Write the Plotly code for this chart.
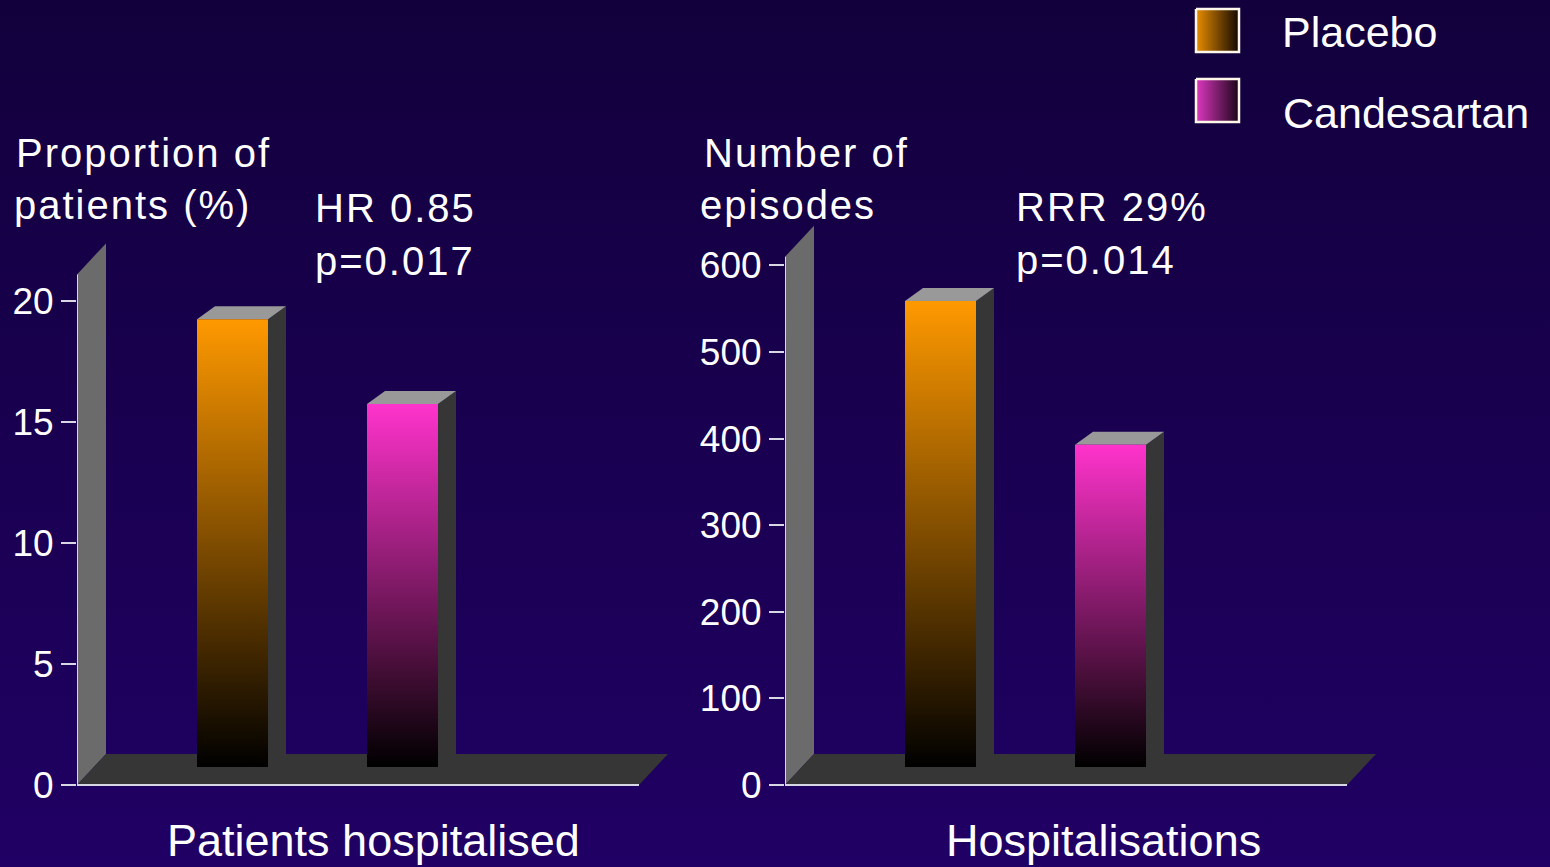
import plotly.graph_objects as go

W, H = 1550, 867

# ---- data -------------------------------------------------------------
groups = ["Placebo", "Candesartan"]
patients_pct = [18.5, 15.0]          # proportion of patients hospitalised (%)
hosp_episodes = [538, 372]           # number of hospitalisation episodes
left_ticks = [0, 5, 10, 15, 20]
right_ticks = [0, 100, 200, 300, 400, 500, 600]

panel_titles = ["Patients hospitalised", "Hospitalisations"]
axis_titles = [["Proportion of", "patients (%)"], ["Number of", "episodes"]]
stats_text = [["HR 0.85", "p=0.017"], ["RRR 29%", "p=0.014"]]

# ---- styling ----------------------------------------------------------
FONT = "Liberation Sans, Arial, sans-serif"
BAR_TOP = {"Placebo": "#ff9900", "Candesartan": "#ff33cc"}
SWATCH = {"Placebo": ["#e88e00", "#120700"], "Candesartan": ["#dd38c0", "#1a0418"]}
WALL = "#6b6b6b"
FLOOR = "#363636"
SIDE = "#363636"
TOPFACE = "#999999"
EDGE = "#d8d8e4"

SLOT_PX = 170.0        # distance between bar centres
FIRST_PX = 155.5       # wall front edge -> first bar centre
HALF_PX = 35.5         # half bar width
FLOOR_PX = 562.0       # floor length
WALL_DX, WALL_DY = 29.0, 31.0
BAR_DX, BAR_DY = 18.0, 13.0
LIFT_PX = 18.0         # bars stand mid-depth on the floor
ZERO_PX = 785.0        # pixel row of value 0

panels = [
    dict(values=patients_pct, ticks=left_ticks, ppu=24.2, wall_px=77.0,
         wall_top=21.1, xa="x2", ya="y2", dom_end=700.0),
    dict(values=hosp_episodes, ticks=right_ticks, ppu=0.866, wall_px=785.0,
         wall_top=610.0, xa="x3", ya="y3", dom_end=1410.0),
]

fig = go.Figure()

# background gradient on a full-page helper axis (pixel coordinates):
# dark at the top, lighter violet towards the bottom
fig.add_trace(go.Scatter(
    x=[0, W, W, 0, 0], y=[0, 0, H, H, 0], mode="lines", fill="toself",
    line=dict(width=0), fillgradient=dict(type="vertical",
    colorscale=[[0, "#200064"], [1, "#12003c"]]),
    hoverinfo="skip", showlegend=False, xaxis="x", yaxis="y"))


def poly(xs, ys, xa, ya, color=None, gradient=None):
    kw = dict(fillcolor=color) if gradient is None else dict(fillgradient=gradient)
    fig.add_trace(go.Scatter(
        x=list(xs) + [xs[0]], y=list(ys) + [ys[0]], mode="lines", fill="toself",
        line=dict(width=0), hoverinfo="skip", showlegend=False,
        xaxis=xa, yaxis=ya, **kw))


for p in panels:
    ppu = p["ppu"]
    xa, ya = p["xa"], p["ya"]
    x0 = -FIRST_PX / SLOT_PX
    x1 = x0 + FLOOR_PX / SLOT_PX
    wdx, wdy = WALL_DX / SLOT_PX, WALL_DY / ppu
    top = p["wall_top"]
    # back wall and floor
    poly([x0, x0, x0 + wdx, x0 + wdx], [0, top, top + wdy, wdy], xa, ya, WALL)
    poly([x0, x1, x1 + wdx, x0 + wdx], [0, 0, wdy, wdy], xa, ya, FLOOR)
    # front edges of the frame
    fig.add_trace(go.Scatter(x=[x0, x0, x1], y=[top, 0, 0], mode="lines",
                             line=dict(color=EDGE, width=2), hoverinfo="skip",
                             showlegend=False, xaxis=xa, yaxis=ya))
    # 3-D columns
    hw = HALF_PX / SLOT_PX
    bdx, bdy = BAR_DX / SLOT_PX, BAR_DY / ppu
    base = LIFT_PX / ppu
    for i, (g, v) in enumerate(zip(groups, p["values"])):
        l, r = i - hw, i + hw
        t = base + v
        poly([r, r + bdx, r + bdx, r], [t, t + bdy, base + bdy, base], xa, ya, SIDE)
        poly([l, l + bdx, r + bdx, r], [t, t + bdy, t + bdy, t], xa, ya, TOPFACE)
        poly([l, r, r, l], [base, base, t, t], xa, ya, gradient=dict(
            type="vertical", colorscale=[[0, "#000000"], [1, BAR_TOP[g]]]))

# legend swatches (horizontal gradients with light borders)
sw_x = [1196, 1239]
sw_y = [[9, 52], [79, 122]]
for g, (ya0, ya1) in zip(groups, sw_y):
    fig.add_trace(go.Scatter(
        x=[sw_x[0], sw_x[1], sw_x[1], sw_x[0], sw_x[0]],
        y=[ya0, ya0, ya1, ya1, ya0], mode="lines", fill="toself",
        line=dict(color="#fff8ea", width=2.5),
        fillgradient=dict(type="horizontal",
                          colorscale=[[0, SWATCH[g][0]], [1, SWATCH[g][1]]]),
        hoverinfo="skip", showlegend=False, xaxis="x", yaxis="y"))

# ---- text -------------------------------------------------------------
annotations = []


def label(text, x, baseline, size, anchor="left", spacing=0):
    if spacing:
        text = f'<span style="letter-spacing:{spacing}px">{text}</span>'
    annotations.append(dict(
        text=text, x=x, y=baseline - 0.35 * size, xref="x", yref="y",
        xanchor=anchor, yanchor="middle", showarrow=False,
        font=dict(family=FONT, size=size, color="#ffffff")))


label(axis_titles[0][0], 14, 167, 40, spacing=2)
label(axis_titles[0][1], 12, 219, 40, spacing=2)
label(stats_text[0][0], 313, 222, 40, spacing=2)
label(stats_text[0][1], 313, 275, 40, spacing=2)
label(axis_titles[1][0], 702, 167, 40, spacing=2)
label(axis_titles[1][1], 698, 219, 40, spacing=2)
label(stats_text[1][0], 1014, 221, 40, spacing=2)
label(stats_text[1][1], 1014, 274, 40, spacing=2)
label(groups[0], 1280, 47, 43)
label(groups[1], 1281, 128, 43)
label(panel_titles[0], 373.5, 856, 45, anchor="center")
label(panel_titles[1], 1103, 856, 45, anchor="center")

# ---- axes -------------------------------------------------------------
layout = dict(
    width=W, height=H, margin=dict(l=0, r=0, t=0, b=0, pad=0),
    paper_bgcolor="#1a0050", plot_bgcolor="rgba(0,0,0,0)",
    showlegend=False, annotations=annotations,
    xaxis=dict(domain=[0, 1], range=[0, W], visible=False, fixedrange=True),
    yaxis=dict(domain=[0, 1], range=[H, 0], visible=False, fixedrange=True),
)
for k, p in enumerate(panels, start=2):
    ppu = p["ppu"]
    x0 = -FIRST_PX / SLOT_PX
    span = (p["dom_end"] - p["wall_px"]) / SLOT_PX
    layout[f"xaxis{k}"] = dict(
        domain=[p["wall_px"] / W, p["dom_end"] / W], range=[x0, x0 + span],
        visible=False, anchor=f"y{k}", fixedrange=True)
    layout[f"yaxis{k}"] = dict(
        domain=[0, 1], anchor=f"x{k}",
        range=[-(H - ZERO_PX) / ppu, ZERO_PX / ppu],
        tickmode="array", tickvals=p["ticks"], ticktext=[str(t) for t in p["ticks"]],
        ticks="outside", ticklen=15, tickwidth=2, tickcolor=EDGE,
        showgrid=False, zeroline=False, showline=False, automargin=False,
        tickfont=dict(family=FONT, size=37, color="#ffffff"), fixedrange=True)

fig.update_layout(**layout)
fig.write_html("out.html")
